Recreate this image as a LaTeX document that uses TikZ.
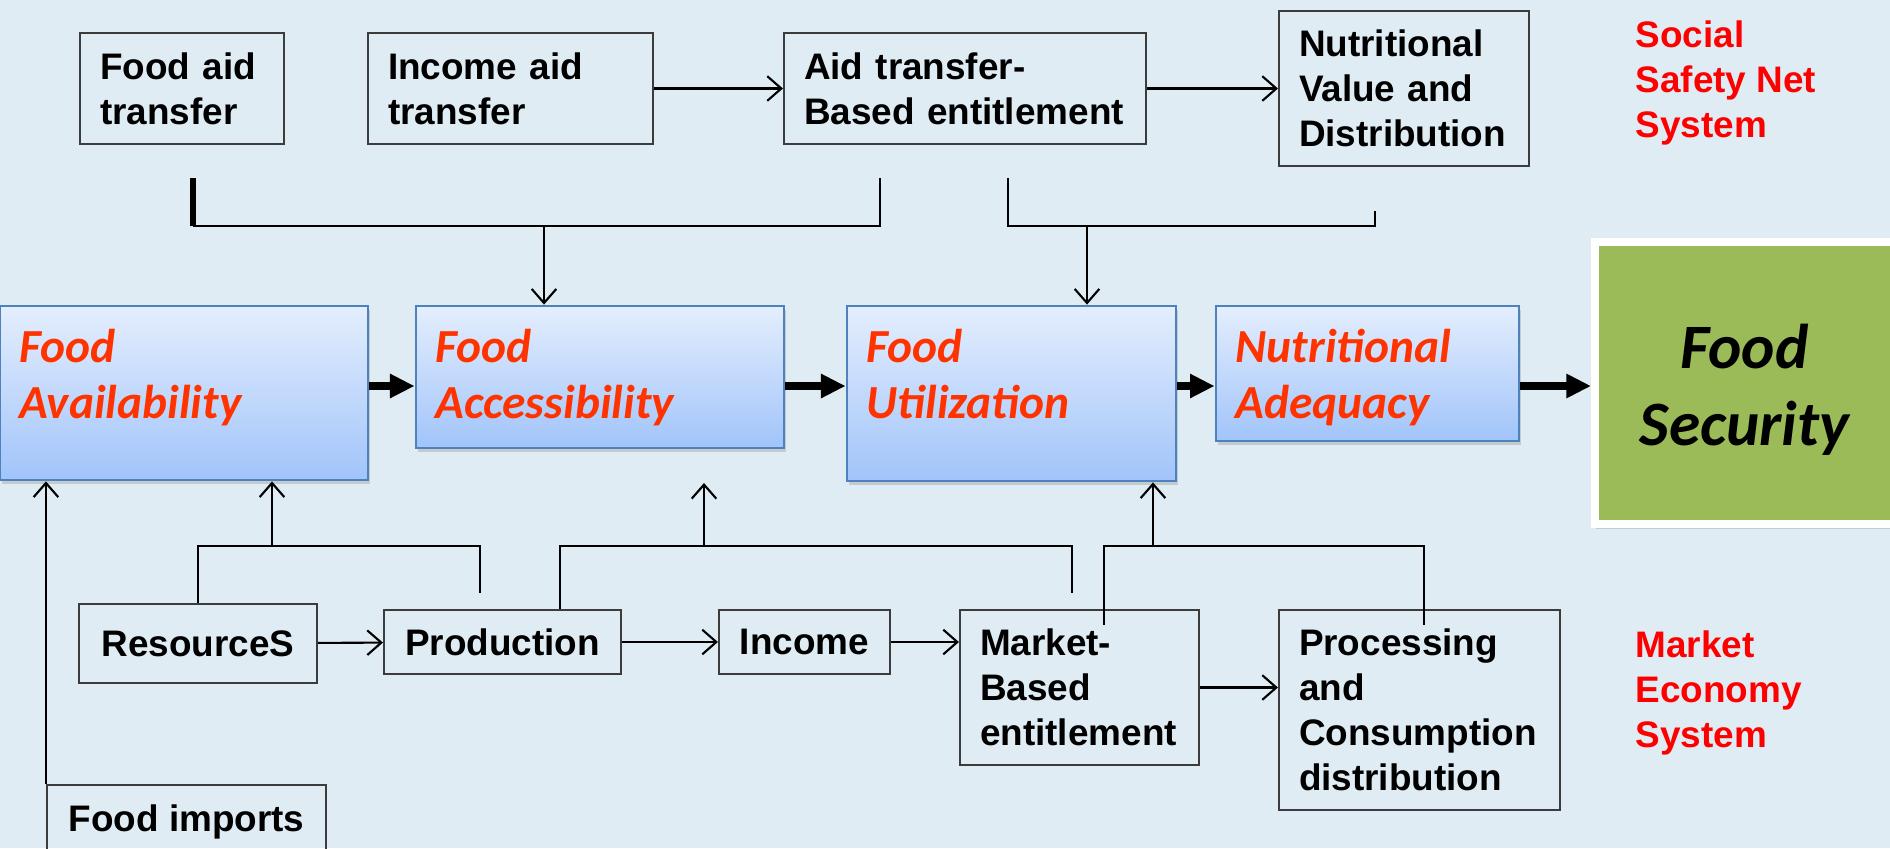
\documentclass[tikz,border=0pt]{standalone}
\usepackage{fontspec}
\setmainfont{Liberation Sans}
\newfontfamily\calibrifont{Carlito}
\usetikzlibrary{arrows.meta, shadows}
\hyphenpenalty=10000
\exhyphenpenalty=10000

\definecolor{bgblue}{RGB}{223,236,244}
\definecolor{boxline}{RGB}{60,60,60}
\definecolor{pillartop}{RGB}{228,238,253}
\definecolor{pillarbot}{RGB}{161,196,250}
\definecolor{pillarline}{RGB}{79,129,189}
\definecolor{pillartext}{RGB}{255,51,0}
\definecolor{securegreen}{RGB}{155,187,89}

\tikzset{
  box/.style={draw=boxline, line width=0.6pt, font=\bfseries\fontsize{10.5}{12.8}\selectfont,
    align=left, inner xsep=0.2cm, inner ysep=0pt},
  pillar/.style={draw=pillarline, line width=0.8pt, top color=pillartop, bottom color=pillarbot,
    drop shadow={shadow xshift=0.02cm, shadow yshift=-0.04cm, opacity=0.3}},
  pillartxt/.style={anchor=north west, inner sep=0pt, align=left, text=pillartext,
    font=\calibrifont\bfseries\itshape\fontsize{13.5}{16.2}\selectfont},
  secbox/.style={draw=white, line width=0.08cm, fill=securegreen,
    drop shadow={shadow xshift=0.01cm, shadow yshift=-0.05cm, opacity=0.3}},
  sectxt/.style={align=center, inner sep=0pt,
    font=\calibrifont\bfseries\itshape\fontsize{18}{22}\selectfont},
  systxt/.style={anchor=north west, inner sep=0pt, align=left, text=red,
    font=\bfseries\fontsize{10.5}{12.8}\selectfont},
  link/.style={line width=0.6pt},
  arr/.style={line width=0.6pt, -{Straight Barb[length=4pt,width=7pt]}},
  bigarr/.style={line width=2.3pt, -{Triangle[length=7pt,width=6.5pt]}},
}

\begin{document}
\begin{tikzpicture}
  \useasboundingbox (0,0) rectangle (18.9,-8.48);
  \fill[bgblue] (0,0) rectangle (18.9,-8.48);

  % safety net row
  \node[box, text width=1.64cm, minimum height=1.11cm] (foodaid) at (1.82,-0.885) {Food aid\\transfer};
  \node[box, text width=2.45cm, minimum height=1.11cm] (incomeaid) at (5.105,-0.885) {Income aid\\transfer};
  \node[box, text width=3.22cm, minimum height=1.11cm] (aidtrans) at (9.65,-0.885) {Aid transfer-\\Based entitlement};
  \node[box, text width=2.10cm, minimum height=1.55cm] (nutrval) at (14.04,-0.885) {Nutritional\\Value and\\Distribution};
  \node[systxt] (safetynet) at (16.35,-0.20) {Social\\Safety Net\\System};

  \draw[arr] (incomeaid) -- (aidtrans);
  \draw[arr] (aidtrans) -- (nutrval);

  % pillars
  \node[pillar, minimum width=3.68cm, minimum height=1.74cm] (avail) at (1.84,-3.93) {};
  \node[pillar, minimum width=3.68cm, minimum height=1.42cm] (access) at (6.00,-3.77) {};
  \node[pillar, minimum width=3.29cm, minimum height=1.75cm] (util) at (10.115,-3.935) {};
  \node[pillar, minimum width=3.03cm, minimum height=1.35cm] (adequacy) at (13.675,-3.735) {};
  \node[pillartxt] (availtxt) at (0.19,-3.28) {Food\\Availability};
  \node[pillartxt] (accesstxt) at (4.35,-3.28) {Food\\Accessibility};
  \node[pillartxt] (utiltxt) at (8.66,-3.28) {Food\\Utilization};
  \node[pillartxt] (adequacytxt) at (12.35,-3.28) {Nutritional\\Adequacy};
  \node[secbox, minimum width=2.99cm, minimum height=2.82cm] (security) at (17.445,-3.83) {};
  \node[sectxt] (securitytxt) at (17.445,-3.90) {Food\\Security};

  \coordinate (flow) at (0,-3.86);
  \draw[bigarr] (avail.east |- flow) -- (access.west |- flow);
  \draw[bigarr] (access.east |- flow) -- (util.west |- flow);
  \draw[bigarr] (util.east |- flow) -- (adequacy.west |- flow);
  \draw[bigarr] (adequacy.east |- flow) -- (security.west |- flow);

  % brackets from the safety net row
  \coordinate (ta1) at (1.93,-1.78);
  \coordinate (ta2) at (8.80,-1.78);
  \coordinate (ta) at (5.44,-2.26);
  \draw[line width=1.5pt] (ta1) -- (ta1 |- ta);
  \draw[link] (ta1 |- ta) -- (ta2 |- ta) -- (ta2);
  \draw[arr] (ta) -- (access.north -| ta);

  \coordinate (tb1) at (10.08,-1.78);
  \coordinate (tb2) at (13.75,-2.11);
  \coordinate (tb) at (10.87,-2.26);
  \draw[link] (tb1) -- (tb1 |- tb) -- (tb2 |- tb) -- (tb2);
  \draw[arr] (tb) -- (util.north -| tb);

  % market economy row
  \node[box, minimum width=2.38cm, minimum height=0.79cm] (resources) at (1.98,-6.435) {ResourceS};
  \node[box, minimum width=2.37cm, minimum height=0.64cm] (production) at (5.025,-6.42) {Production};
  \node[box, minimum width=1.71cm, minimum height=0.64cm] (income) at (8.045,-6.42) {Income};
  \node[box, text width=1.99cm, minimum height=1.55cm] (market) at (10.795,-6.875) {Market-\\Based\\entitlement};
  \node[box, text width=2.41cm, minimum height=2.00cm] (process) at (14.195,-7.10) {Processing\\and\\Consumption\\distribution};
  \node[box, minimum width=2.79cm, minimum height=0.74cm] (foodimp) at (1.865,-8.22) {Food imports};
  \node[systxt] (economy) at (16.35,-6.30) {Market\\Economy\\System};

  \draw[arr] (resources) -- (production);
  \draw[arr] (production) -- (income);
  \draw[arr] (income.east) -- (income.east -| market.west);
  \draw[arr] (market.east) -- (market.east -| process.west);

  % brackets up to the pillars
  \coordinate (ba) at (2.72,-5.46);
  \coordinate (ba2) at (4.80,-5.93);
  \draw[link] (resources.north) -- (resources.north |- ba) -- (ba2 |- ba) -- (ba2);
  \draw[arr] (ba) -- (avail.south -| ba);

  \coordinate (bb) at (7.04,-5.46);
  \coordinate (bb1) at (5.60,-5.46);
  \coordinate (bb2) at (10.72,-5.93);
  \coordinate (bbtip) at (7.04,-4.83);
  \draw[link] (production.north -| bb1) -- (bb1) -- (bb2 |- bb) -- (bb2);
  \draw[arr] (bb) -- (bbtip);

  \coordinate (bc) at (11.53,-5.46);
  \coordinate (bc1) at (11.04,-6.25);
  \coordinate (bc2) at (14.24,-6.25);
  \draw[link] (bc1) -- (bc1 |- bc) -- (bc2 |- bc) -- (bc2);
  \draw[arr] (bc) -- (util.south -| bc);

  \draw[arr] (foodimp.north west) -- (avail.south -| foodimp.north west);
\end{tikzpicture}
\end{document}
